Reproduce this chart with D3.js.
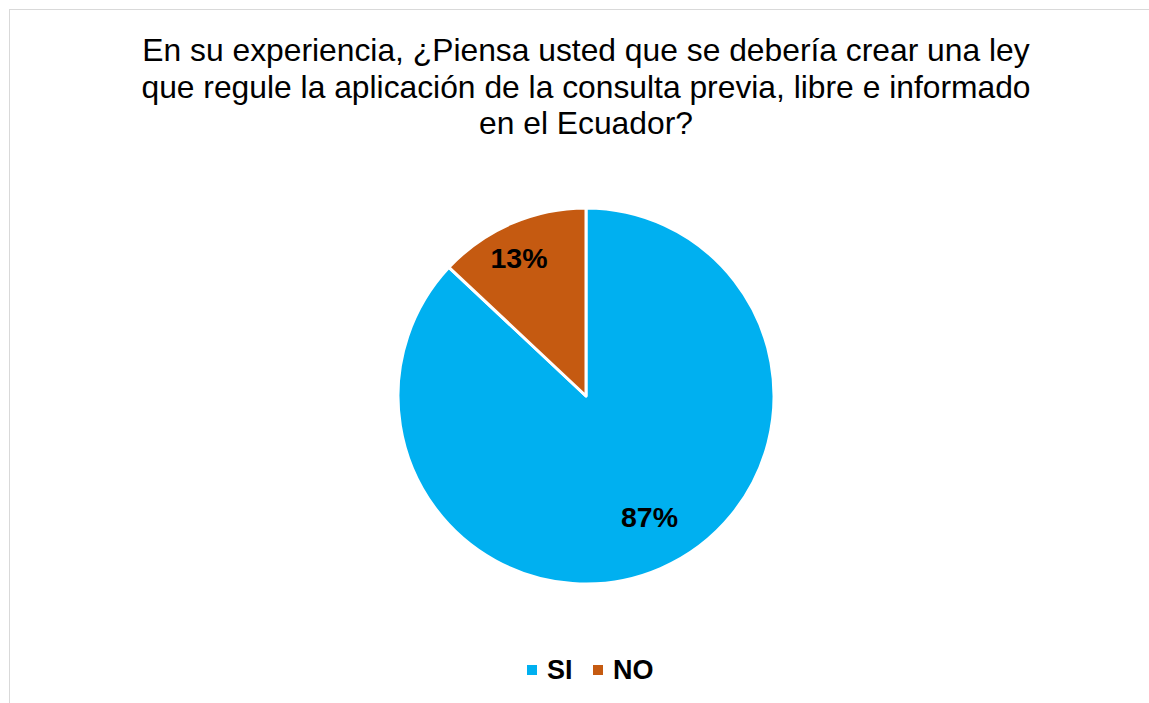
<!DOCTYPE html>
<html>
<head>
<meta charset="utf-8">
<script src="https://cdn.jsdelivr.net/npm/d3@7"></script>
<style>
	body { margin: 0; background: #fff; }
	text { font-family: "Liberation Sans", Arial, sans-serif; }
</style>
</head>
<body>
<div id="graphic-wrapper"></div>
<script>
const categories = ["SI", "NO"]
const values = [87, 13]
const labels = ["87%", "13%"]
const colors = ["#00B0F0", "#C55A11"]
const titleLines = [
	"En su experiencia, ¿Piensa usted que se debería crear una ley",
	"que regule la aplicación de la consulta previa, libre e informado",
	"en el Ecuador?",
]

const DIMENSIONS = { width: 1149, height: 703 }
const CENTER = { x: 586, y: 396 }
const RADIUS = 188

const svg = d3.select("#graphic-wrapper")
	.append("svg")
		.attr("width", DIMENSIONS.width)
		.attr("height", DIMENSIONS.height)

// chart area border
svg.append("rect")
	.attr("x", 9.5)
	.attr("y", 9.5)
	.attr("width", 1200)
	.attr("height", 800)
	.attr("fill", "none")
	.attr("stroke", "#d9d9d9")
	.attr("stroke-width", 1)

svg.append("g")
	.selectAll("text")
	.data(titleLines)
	.join("text")
		.attr("x", CENTER.x)
		.attr("y", (d, i) => 61 + i * 36.5)
		.attr("text-anchor", "middle")
		.attr("font-size", 31.8)
		.attr("fill", "#000")
		.text(d => d)

const pie = d3.pie().sort(null).value(d => d)
const arcs = pie(values)
const arc = d3.arc().innerRadius(0).outerRadius(RADIUS)
const labelArc = d3.arc().innerRadius(RADIUS * 0.75).outerRadius(RADIUS * 0.75)
// best-fit nudges, as Excel places them
const labelNudge = [[7.5, -8.5], [-11, -9]]

const bounds = svg.append("g")
	.attr("transform", `translate(${CENTER.x}, ${CENTER.y})`)

bounds.selectAll("path")
	.data(arcs)
	.join("path")
		.attr("d", arc)
		.attr("fill", (d, i) => colors[i])
		.attr("stroke", "#fff")
		.attr("stroke-width", 3)
		.attr("stroke-linejoin", "round")

bounds.selectAll(".label")
	.data(arcs)
	.join("text")
		.attr("class", "label")
		.attr("x", (d, i) => labelArc.centroid(d)[0] + labelNudge[i][0])
		.attr("y", (d, i) => labelArc.centroid(d)[1] + labelNudge[i][1])
		.attr("dy", "0.35em")
		.attr("text-anchor", "middle")
		.attr("font-size", 28.5)
		.attr("font-weight", "bold")
		.attr("fill", "#000")
		.text((d, i) => labels[i])

// legend
const legend = svg.append("g")
const legendX = [527, 593]
categories.forEach((c, i) => {
	legend.append("rect")
		.attr("x", legendX[i])
		.attr("y", 665)
		.attr("width", 10)
		.attr("height", 10)
		.attr("fill", colors[i])
	legend.append("text")
		.attr("x", legendX[i] + 20)
		.attr("y", 679)
		.attr("font-size", 27)
		.attr("font-weight", "bold")
		.attr("fill", "#000")
		.text(c)
})
</script>
</body>
</html>
